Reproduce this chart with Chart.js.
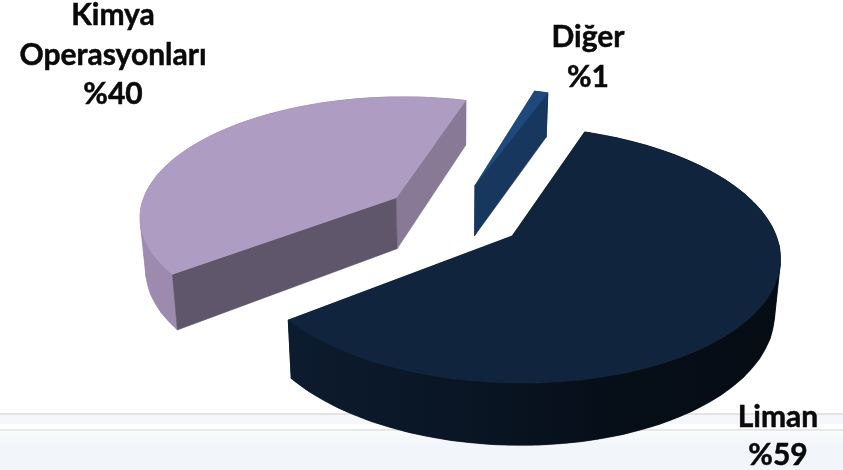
<!DOCTYPE html>
<html lang="tr">
<head>
<meta charset="utf-8">
<title>Pie</title>
<script src="https://cdn.jsdelivr.net/npm/chart.js@4/dist/chart.umd.min.js"></script>
<style>
html,body{margin:0;padding:0;width:843px;height:470px;overflow:hidden;background:#fff}
#wrap{position:relative;width:843px;height:470px;
background:linear-gradient(to bottom,#fff 0,#fff 413px,#e2e2e2 413px,#e6e6e6 415px,#f4f6f9 415px,#f5f7fa 424px,#fff 424px,#fff 429px,#e6e6e6 429px,#e8e8e8 431px,#fafbfc 431px,#f2f5f9 445px,#f2f5f9 470px)}
canvas{position:absolute;left:0;top:0}
</style>
</head>
<body>
<div id="wrap"><canvas id="c" width="843" height="470"></canvas></div>
<script>
const categories = ["Liman", "Kimya Operasyonları", "Diğer"];
const values = [59, 40, 1];
const sliceColors = ["#10243e", "#ae9cc2", "#1f497d"];
const tickLabels = ["%59", "%40", "%1"];

const TILT = 0.465, PERSP = 0.00055, DEPTH = 52, TAPER = 0.018;
const wallShades = [
  {start: 0.7, end: 0.7, ramp: [0.74, 0.6, 0.38, 0.32]},
  {start: 0.55, end: 0.78, ramp: [0.9, 0.87, 0.84, 0.82]},
  {start: 0.8, end: 0.75, ramp: [0.8, 0.8, 0.8, 0.8]}
];
const labelSpots = [
  {x: 778, ys: [427, 465]},
  {x: 113, ys: [25, 65, 104]},
  {x: 588, ys: [47, 87]}
];

function shade(hex, f) {
  const n = parseInt(hex.slice(1), 16);
  return `rgb(${Math.round((n >> 16 & 255) * f)},${Math.round((n >> 8 & 255) * f)},${Math.round((n & 255) * f)})`;
}

const pie3d = {
  id: 'pie3d',
  beforeDatasetsDraw(chart) {
    const ctx = chart.ctx;
    const arcs = chart.getDatasetMeta(0).data;
    const order = arcs.map((a, i) => i).sort((i, j) => {
      const m = a => (a.startAngle + a.endAngle) / 2;
      return Math.sin(m(arcs[i])) - Math.sin(m(arcs[j]));
    });
    ctx.save();
    ctx.lineJoin = 'round';
    const poly = (pts, fill) => {
      ctx.beginPath();
      pts.forEach((p, n) => n ? ctx.lineTo(p[0], p[1]) : ctx.moveTo(p[0], p[1]));
      ctx.closePath();
      ctx.fillStyle = fill; ctx.strokeStyle = fill; ctx.lineWidth = 0.5;
      ctx.fill(); ctx.stroke();
    };
    for (const i of order) {
      const el = arcs[i];
      const r = el.outerRadius, off = el.options.offset || 0, col = el.options.backgroundColor;
      const mid = (el.startAngle + el.endAngle) / 2;
      const ox = Math.cos(mid) * off, oy = Math.sin(mid) * off;
      const proj = (X, Y, z) => {
        const k = 1 / (1 - PERSP * Y);
        return [el.x + X * k * (1 - z * TAPER), el.y + TILT * Y * k + z * DEPTH * k];
      };
      const steps = Math.max(4, Math.round((el.endAngle - el.startAngle) / 0.012));
      const rim = [];
      for (let s = 0; s <= steps; s++) {
        const a = el.startAngle + (el.endAngle - el.startAngle) * s / steps;
        rim.push({X: ox + Math.cos(a) * r, Y: oy + Math.sin(a) * r});
      }
      const apex = {X: ox, Y: oy};
      const sh = wallShades[i];
      const face = (p, f) => poly([proj(apex.X, apex.Y, 0), proj(p.X, p.Y, 0), proj(p.X, p.Y, 1), proj(apex.X, apex.Y, 1)], shade(col, f));
      const last = rim[rim.length - 1];
      const startFront = -Math.cos(el.startAngle) > 0;
      const endFront = Math.cos(el.endAngle) > 0;
      if (!startFront) face(rim[0], sh.start);
      if (!endFront) face(last, sh.end);
      const topEdge = rim.map(p => proj(p.X, p.Y, 0));
      const botEdge = rim.map(p => proj(p.X, p.Y, 1));
      const xs = topEdge.concat(botEdge).map(p => p[0]);
      const x0 = Math.min(...xs), x1 = Math.max(...xs);
      const g = ctx.createLinearGradient(x0, 0, x1, 0);
      sh.ramp.forEach((f, n) => g.addColorStop(n / (sh.ramp.length - 1), shade(col, f)));
      poly(topEdge.concat(botEdge.slice().reverse()), g);
      const sweep = [];
      for (let s = 0; s <= steps; s += 12) {
        const e = Math.min(s + 12, steps);
        poly([topEdge[s], topEdge[e], botEdge[e], botEdge[s]], g);
      }
      if (endFront) face(last, sh.end);
      if (startFront) face(rim[0], sh.start);
      const ap = proj(apex.X, apex.Y, 0);
      poly([ap].concat(topEdge), col);
    }
    ctx.restore();
    return false;
  },
  afterDraw(chart) {
    const ctx = chart.ctx;
    ctx.save();
    ctx.fillStyle = '#0a0a0a';
    ctx.strokeStyle = '#0a0a0a';
    ctx.lineWidth = 0.5;
    ctx.font = 'bold 30px Lato, "Open Sans", sans-serif';
    ctx.textAlign = 'center';
    ctx.textBaseline = 'alphabetic';
    categories.forEach((name, i) => {
      const lines = name.split(' ').concat(tickLabels[i]);
      lines.forEach((t, n) => {
        ctx.fillText(t, labelSpots[i].x, labelSpots[i].ys[n]);
        ctx.strokeText(t, labelSpots[i].x, labelSpots[i].ys[n]);
      });
    });
    ctx.restore();
  }
};

new Chart(document.getElementById('c'), {
  type: 'pie',
  data: {
    labels: categories,
    datasets: [{
      data: values,
      backgroundColor: sliceColors,
      borderWidth: 0,
      offset: 71,
      radius: 258
    }]
  },
  options: {
    responsive: false,
    animation: false,
    rotation: 20,
    events: [],
    layout: {padding: {left: 64, right: 0, top: 0, bottom: 38}},
    plugins: {legend: {display: false}, tooltip: {enabled: false}}
  },
  plugins: [pie3d]
});
</script>
</body>
</html>
